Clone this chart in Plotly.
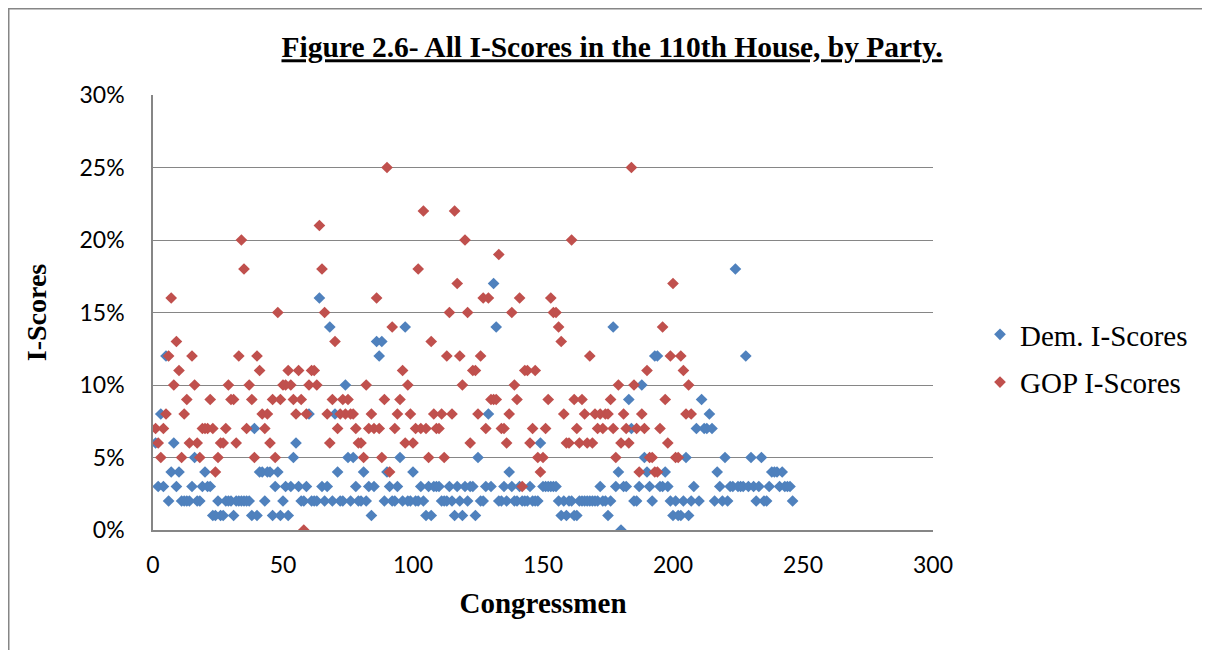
import plotly.graph_objects as go

# Dem. I-Scores (percent), congressman index 1..246
dem_scores = [
    6, 3, 8, 3, 12, 2, 4, 6, 3, 4, 2, 2, 2, 2, 3, 5, 2, 2, 3, 4,
    3, 3, 1, 1, 2, 1, 1, 2, 2, 2, 1, 2, 2, 2, 2, 2, 2, 1, 7, 1,
    4, 4, 2, 4, 4, 1, 3, 4, 1, 2, 3, 1, 3, 5, 6, 3, 2, 2, 3, 8,
    2, 2, 2, 16, 3, 2, 3, 14, 2, 8, 4, 2, 2, 10, 5, 2, 5, 3, 2, 2,
    4, 2, 3, 1, 3, 13, 12, 13, 2, 4, 3, 2, 2, 3, 5, 2, 14, 2, 2, 4,
    2, 2, 3, 2, 1, 3, 1, 3, 3, 3, 2, 2, 2, 3, 2, 1, 3, 2, 1, 3,
    2, 3, 3, 1, 5, 2, 2, 3, 8, 3, 17, 14, 2, 2, 3, 2, 4, 3, 2, 2,
    3, 2, 2, 2, 3, 2, 2, 2, 6, 3, 3, 3, 3, 3, 3, 2, 1, 2, 1, 2,
    2, 1, 1, 2, 2, 2, 2, 2, 2, 2, 2, 3, 2, 2, 1, 2, 14, 3, 4, 0,
    3, 3, 9, 7, 2, 2, 3, 10, 5, 4, 3, 2, 12, 12, 3, 3, 4, 3, 2, 1,
    2, 1, 1, 2, 5, 1, 2, 3, 7, 2, 9, 7, 7, 8, 7, 2, 4, 3, 2, 5,
    2, 3, 3, 18, 3, 3, 3, 12, 3, 5, 3, 2, 3, 5, 2, 2, 3, 4, 4, 4,
    3, 4, 3, 3, 3, 2,
]

# GOP I-Scores (percent), congressman index 1..207
gop_scores = [
    7, 6, 5, 7, 8, 12, 16, 10, 13, 11, 5, 8, 9, 6, 12, 10, 6, 5, 7, 7,
    7, 9, 7, 4, 5, 6, 6, 7, 10, 9, 9, 6, 12, 20, 18, 7, 10, 9, 5, 12,
    11, 8, 7, 8, 6, 9, 5, 15, 9, 10, 10, 11, 10, 9, 8, 11, 9, 0, 8, 10,
    11, 11, 10, 21, 18, 15, 8, 6, 9, 13, 7, 8, 9, 8, 9, 8, 8, 7, 6, 6,
    5, 10, 7, 8, 7, 16, 7, 5, 9, 25, 4, 14, 7, 8, 9, 11, 6, 10, 8, 6,
    7, 18, 7, 22, 7, 5, 13, 8, 7, 7, 8, 5, 12, 15, 8, 22, 17, 12, 10, 20,
    15, 6, 11, 11, 8, 12, 16, 7, 16, 9, 9, 9, 19, 7, 7, 6, 8, 15, 10, 9,
    16, 3, 11, 11, 6, 7, 11, 5, 4, 5, 7, 9, 16, 15, 15, 14, 13, 8, 6, 6,
    20, 9, 7, 6, 9, 8, 6, 12, 6, 8, 7, 8, 7, 8, 8, 9, 7, 5, 10, 6,
    8, 7, 6, 25, 10, 7, 4, 8, 7, 11, 5, 5, 4, 4, 7, 14, 9, 6, 12, 17,
    5, 5, 12, 11, 8, 10, 8,
]

dem_x = list(range(1, len(dem_scores) + 1))
gop_x = list(range(1, len(gop_scores) + 1))

x_ticks = [0, 50, 100, 150, 200, 250, 300]
y_ticks = [0, 0.05, 0.10, 0.15, 0.20, 0.25, 0.30]

DEM_COLOR = "#4F81BD"
GOP_COLOR = "#C0504D"
GRID = "#868686"
SERIF = "Liberation Serif, Times New Roman, serif"
SANS = "Lato, Carlito, Open Sans, sans-serif"

# the page body adds an 8px offset; figure coordinates below are page - 8
L, R_EDGE, T, B_EDGE = 145, 925, 87, 522
W, H = 1210, 650
PW, PH = R_EDGE - L, B_EDGE - T

fig = go.Figure()
fig.add_trace(go.Scatter(
    x=dem_x, y=[v / 100 for v in dem_scores], mode="markers",
    name="Dem. I-Scores", legendgroup="dem",
    marker=dict(symbol="diamond", size=9, color=DEM_COLOR, line=dict(width=0)),
))
fig.add_trace(go.Scatter(
    x=gop_x, y=[v / 100 for v in gop_scores], mode="markers",
    name="GOP I-Scores", legendgroup="gop",
    marker=dict(symbol="diamond", size=9, color=GOP_COLOR, line=dict(width=0)),
))

fig.update_layout(
    width=W, height=H,
    margin=dict(l=L, r=W - R_EDGE, t=T, b=H - B_EDGE),
    paper_bgcolor="white", plot_bgcolor="white",
    title=dict(
        text="<b><u>Figure 2.6- All I-Scores in the 110th House, by Party.</u></b>",
        x=604 / W, xanchor="center", y=1 - 39 / H, yanchor="middle",
        font=dict(family=SERIF, size=29.5, color="black"),
    ),
    xaxis=dict(
        range=[0, 300], tickvals=x_ticks, ticktext=[str(t) for t in x_ticks],
        showgrid=False, zeroline=False,
        showline=True, linecolor=GRID, linewidth=1.5,
        ticks="", tickfont=dict(family=SANS, size=23, color="black"),
        ticklabelstandoff=14,
        title=dict(text="<b>Congressmen</b>", font=dict(family=SERIF, size=29, color="black"), standoff=15),
    ),
    yaxis=dict(
        range=[0, 0.30], tickvals=y_ticks, tickformat=".0%",
        showgrid=True, gridcolor=GRID, gridwidth=1, zeroline=False,
        showline=True, linecolor=GRID, linewidth=1.5,
        ticks="", tickfont=dict(family=SANS, size=23, color="black"),
        ticklabelstandoff=22,
        title=dict(text="<b>I-Scores</b>", font=dict(family=SERIF, size=28, color="black"), standoff=25),
    ),
    legend=dict(
        x=(972 - L) / PW, xanchor="left", y=(B_EDGE - 301) / PH, yanchor="top",
        font=dict(family=SERIF, size=29, color="black"),
        traceorder="grouped", tracegroupgap=7,
        itemsizing="trace", bgcolor="rgba(0,0,0,0)",
    ),
    shapes=[dict(
        type="rect", xref="paper", yref="paper",
        x0=(0.75 - L) / PW, x1=(W + 10 - L) / PW,
        y0=(B_EDGE - H - 20) / PH, y1=(B_EDGE - 0.75) / PH,
        line=dict(color=GRID, width=1.5), fillcolor="rgba(0,0,0,0)", layer="below",
    )],
)

fig.write_html("out.html")
